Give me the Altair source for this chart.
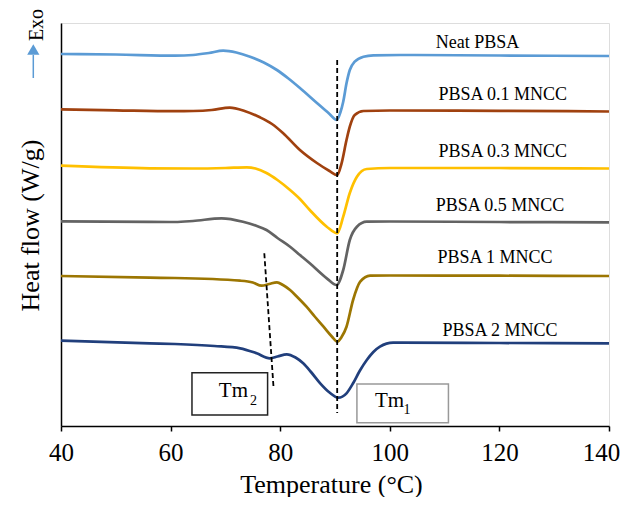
import altair as alt
import pandas as pd

# ---- data (temperature in degC, heat flow in arbitrary units, offset stacked) ----
series_names = ["Neat PBSA", "PBSA 0.1 MNCC", "PBSA 0.3 MNCC", "PBSA 0.5 MNCC", "PBSA 1 MNCC", "PBSA 2 MNCC"]
series_colors = ["#5B9BD5", "#A0410F", "#FFC000", "#636363", "#9C7602", "#213F7C"]

neat_T = [40, 50, 60.8, 64.1, 67, 69.6, 72, 74.5, 77, 79.4, 81.5, 83.6, 86.7, 89, 90.3, 91.0, 91.5, 92.1, 92.7, 93.6, 95.2, 97.0, 101.9, 120, 140]
neat_hf = [372, 371.5, 370.3, 371, 373, 375.3, 373.5, 369.3, 363.5, 356, 347.5, 338, 323, 312, 306, 314, 324.3, 342.7, 356, 364.3, 369.3, 370.7, 371, 370.5, 370]

p01_T = [40, 50, 60.8, 64.1, 67.5, 70.8, 73.5, 76.3, 78.5, 80.5, 83.6, 86.7, 89, 90.4, 91.2, 92.1, 92.7, 93.6, 95.2, 100, 120, 140]
p01_hf = [316.7, 315.7, 314.8, 315, 316, 318.3, 315, 308.7, 302, 293, 276, 263, 255, 251, 262.7, 286, 299.3, 311, 315, 315.5, 315.2, 314.5]

p03_T = [40, 56.2, 64, 70, 73.9, 75.5, 77.5, 79.5, 81.8, 83.6, 85.4, 88.5, 90.4, 91.5, 92.7, 94.0, 95.8, 100, 120, 140]
p03_hf = [260.3, 257.7, 257.5, 258, 258.7, 257.5, 253, 246, 236, 227, 216, 199.3, 192.7, 209.3, 233, 249.3, 257, 258, 258, 257.5]

p05_T = [40, 56.2, 60.8, 64.1, 69.3, 73.2, 75.5, 77.5, 79.5, 81.8, 83.6, 85.4, 88.5, 90.3, 91.5, 92.7, 94.0, 95.8, 100, 120, 140]
p05_hf = [204.7, 204.2, 204, 205, 207.7, 204.3, 200.5, 196, 188, 179.3, 171, 162.7, 147.7, 141, 156, 186, 199.3, 204.3, 204.5, 204, 203.7]

p1_T = [40, 56.2, 60.8, 72.7, 75.0, 76.6, 78.0, 79.4, 80.5, 81.8, 83.2, 84.8, 86.3, 87.9, 89.5, 90.4, 91.2, 92.1, 93.3, 94.6, 96.4, 100, 120, 140]
p1_hf = [150, 148.3, 148, 145.3, 143.5, 140.3, 142, 143.7, 141, 136, 128.5, 119.3, 109.5, 99.3, 89, 84.3, 89, 99.3, 126, 144.3, 150.3, 150.5, 150.3, 150]

p2_T = [40, 56.2, 60.8, 68, 72.7, 75.7, 78.1, 79.5, 81.2, 82.8, 84.2, 85.7, 87.3, 89.0, 90.6, 92.1, 93.3, 94.5, 95.8, 97.0, 98.2, 100.6, 102, 120, 140]
p2_hf = [85.3, 82.7, 82, 80, 77.7, 72.7, 67.7, 69.5, 71.7, 68.5, 62.7, 53.5, 42.7, 33.5, 28.3, 32.7, 42.7, 55, 66, 74, 79.3, 83.3, 83.3, 83, 82.7]

# series label anchors (temperature, heat flow)
label_T = [116.0, 120.6, 120.6, 120.1, 119.2, 120.1]
label_hf = [377.7, 326, 269.3, 215.3, 163.3, 90.3]

# dashed guide lines: Tm1 (vertical) and Tm2 (slanted)
guide_T = [90.4, 77.1]
guide_T2 = [90.4, 78.8]
guide_hf = [366, 172.7]
guide_hf2 = [13, 37.2]

# annotation boxes
box_T = [63.9, 94.0]
box_T2 = [77.7, 110.7]
box_hf = [53.3, 42]
box_hf2 = [11, 3.3]
box_stroke = ["#222222", "#999999"]
box_main_text = ["Tm", "Tm"]
box_main_T = [68.8, 97.3]
box_main_hf = [29, 19.5]
box_sub_text = ["2", "1"]
box_sub_T = [74.5, 102.5]
box_sub_hf = [21, 12]

x_ticks = [40, 60, 80, 100, 120, 140]

# ---- build tables ----
all_T = [neat_T, p01_T, p03_T, p05_T, p1_T, p2_T]
all_hf = [neat_hf, p01_hf, p03_hf, p05_hf, p1_hf, p2_hf]
rows = []
for name, ts, hs in zip(series_names, all_T, all_hf):
    for i, (t, h) in enumerate(zip(ts, hs)):
        rows.append({"series": name, "T": t, "hf": h, "i": i})
curves = pd.DataFrame(rows)

labels = pd.DataFrame({"series": series_names, "T": label_T, "hf": label_hf})
guides = pd.DataFrame({"T": guide_T, "T2": guide_T2, "hf": guide_hf, "hf2": guide_hf2})
boxes = pd.DataFrame({"T": box_T, "T2": box_T2, "hf": box_hf, "hf2": box_hf2, "stroke": box_stroke})
box_main = pd.DataFrame({"T": box_main_T, "hf": box_main_hf, "txt": box_main_text})
box_sub = pd.DataFrame({"T": box_sub_T, "hf": box_sub_hf, "txt": box_sub_text})
one = pd.DataFrame({"k": [0]})

FONT = "Liberation Serif"

x_axis = alt.Axis(values=x_ticks, grid=False, tickSize=5, tickColor="black", tickWidth=1.5,
                  labelFont=FONT, labelFontSize=25, labelColor="black", labelPadding=9,
                  labelFlush=False, labelOverlap=False, labelBound=False,
                  labelOffset={"condition": {"test": "datum.value == 140", "value": -8}, "value": 0},
                  domainColor="black", domainWidth=1.5,
                  title="Temperature (°C)", titleFont=FONT, titleFontSize=26,
                  titleFontWeight="normal", titleColor="black",
                  titleX=270, titleY=66, titleBaseline="alphabetic", titleAlign="center")
y_axis = alt.Axis(labels=False, ticks=False, grid=False, domainColor="black", domainWidth=1.5,
                  title="Heat flow (W/g)", titleFont=FONT, titleFontSize=26,
                  titleFontWeight="normal", titleColor="black", titleAngle=270,
                  titleX=-23, titleY=202, titleBaseline="alphabetic", titleAlign="center")

xs = alt.Scale(domain=[40, 140], nice=False, zero=False)
ys = alt.Scale(domain=[0, 403], nice=False, zero=False)

X = alt.X("T:Q", scale=xs, axis=x_axis)
Y = alt.Y("hf:Q", scale=ys, axis=y_axis)

lines = alt.Chart(curves).mark_line(interpolate="monotone", strokeWidth=2.7).encode(
    x=X, y=Y,
    color=alt.Color("series:N", scale=alt.Scale(domain=series_names, range=series_colors), legend=None),
    order="i:Q",
)

guide_layer = alt.Chart(guides).mark_rule(color="black", strokeWidth=1.8, strokeDash=[5, 3]).encode(
    x=X, x2="T2:Q", y=Y, y2="hf2:Q"
)

box_layer = alt.Chart(boxes).mark_rect(fill="white", strokeWidth=1.5).encode(
    x=X, x2="T2:Q", y=Y, y2="hf2:Q",
    stroke=alt.Stroke("stroke:N", scale=None),
)

box_text = alt.Chart(box_main).mark_text(font=FONT, fontSize=21, align="left", baseline="alphabetic",
                                         color="black").encode(x=X, y=Y, text="txt:N")
box_subtext = alt.Chart(box_sub).mark_text(font=FONT, fontSize=14, align="left", baseline="alphabetic",
                                           color="black").encode(x=X, y=Y, text="txt:N")

label_layer = alt.Chart(labels).mark_text(font=FONT, fontSize=18, align="center", baseline="alphabetic",
                                          color="black").encode(x=X, y=Y, text="series:N")

exo_line = alt.Chart(one).mark_rule(color="#5B9BD5", strokeWidth=1.5).encode(
    x=alt.value(-27.7), y=alt.value(32), y2=alt.value(55)
)
exo_head = alt.Chart(one).mark_point(shape="triangle-up", filled=True, size=150, color="#5B9BD5", opacity=1).encode(
    x=alt.value(-27.7), y=alt.value(26.5)
)
exo_text = alt.Chart(one).mark_text(text="Exo", font=FONT, fontSize=20, angle=270, align="center",
                                    baseline="alphabetic", color="black").encode(
    x=alt.value(-17.7), y=alt.value(2)
)

chart = alt.layer(
    lines, guide_layer, box_layer, box_text, box_subtext, label_layer, exo_line, exo_head, exo_text
).properties(
    width=548, height=403,
    autosize=alt.AutoSizeParams(type="none"),
    padding={"left": 53, "top": 15, "right": 11, "bottom": 71},
).configure_view(stroke="black", strokeWidth=1.5).configure(font=FONT, background="white")

chart.save("out.html", embed_options={"renderer": "svg", "actions": False})
